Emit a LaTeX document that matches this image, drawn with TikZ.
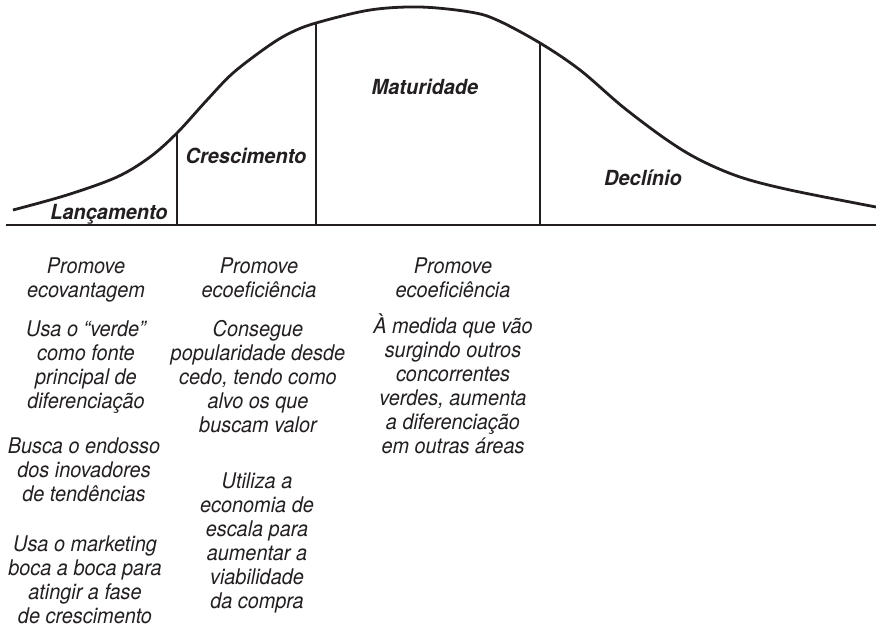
\documentclass[tikz,border=0pt]{standalone}
\usepackage{fontspec}
\setmainfont{TeX Gyre Heros}
\newfontfamily\notefont[FakeStretch=0.92]{TeX Gyre Heros}
\newfontfamily\phasefont[FakeStretch=0.96]{TeX Gyre Heros}
\definecolor{ink}{HTML}{231F20}
\begin{document}
\begin{tikzpicture}[x=1pt,y=-1pt,
  curve/.style={line width=2.8pt, ink, line join=round},
  divider/.style={line width=2.3pt, ink},
  axisline/.style={line width=2.8pt, ink},
  phase/.style={font={\phasefont\fontsize{20.8}{24}\selectfont\bfseries\itshape}, text=ink, inner sep=0pt, anchor=base},
  note/.style={font={\notefont\fontsize{21.6}{24}\selectfont\itshape}, text=ink, inner sep=0pt, anchor=base, align=center}]
\useasboundingbox (0,0) rectangle (876,627);
% curve
\draw[curve] plot[smooth, tension=0.55] coordinates {
 (13,210) (67,195) (117,177) (150,157) (177,133) (207,100) (233,73) (267,47) (290,33) (316,23)
 (370,10) (420,7) (470,12) (497,20) (540,43) (580,70) (623,107) (667,140) (700,160) (740,177) (790,190) (876,207)};
% points on curve and axis
\coordinate (t1) at (177,133);
\coordinate (t2) at (316,23);
\coordinate (t3) at (540,43);
\coordinate (b1) at (177,225);
\coordinate (b2) at (316,225);
\coordinate (b3) at (540,225);
\coordinate (axL) at (6,225);
\coordinate (axR) at (876,225);
\draw[axisline] (axL) -- (axR);
\draw[divider] (t1) -- (b1);
\draw[divider] (t2) -- (b2);
\draw[divider] (t3) -- (b3);
% phase labels
\node[phase] (lanc) at (109,219) {Lançamento};
\node[phase] (cresc) at (246,163) {Crescimento};
\node[phase] (matur) at (425,94) {Maturidade};
\node[phase] (decl) at (643,185) {Declínio};
% column 1 (anchor = baseline of last line)
\node[note] (c1a) at (86,297) {Promove\\ecovantagem};
\node[note] (c1b) at (86,408) {Usa o “verde”\\como fonte\\principal de\\diferenciação};
\node[note] (c1c) at (84,501) {Busca o endosso\\dos inovadores\\de tendências};
\node[note] (c1d) at (85,623) {Usa o marketing\\boca a boca para\\atingir a fase\\de crescimento};
% column 2
\node[note] (c2a) at (259,297) {Promove\\ecoeficiência};
\node[note] (c2b) at (258,432) {Consegue\\popularidade desde\\cedo, tendo como\\alvo os que\\buscam valor};
\node[note] (c2c) at (257,608) {Utiliza a\\economia de\\escala para\\aumentar a\\viabilidade\\da compra};
% column 3
\node[note] (c3a) at (453,297) {Promove\\ecoeficiência};
\node[note] (c3b) at (453,453) {À medida que vão\\surgindo outros\\concorrentes\\verdes, aumenta\\a diferenciação\\em outras áreas};
\end{tikzpicture}
\end{document}
